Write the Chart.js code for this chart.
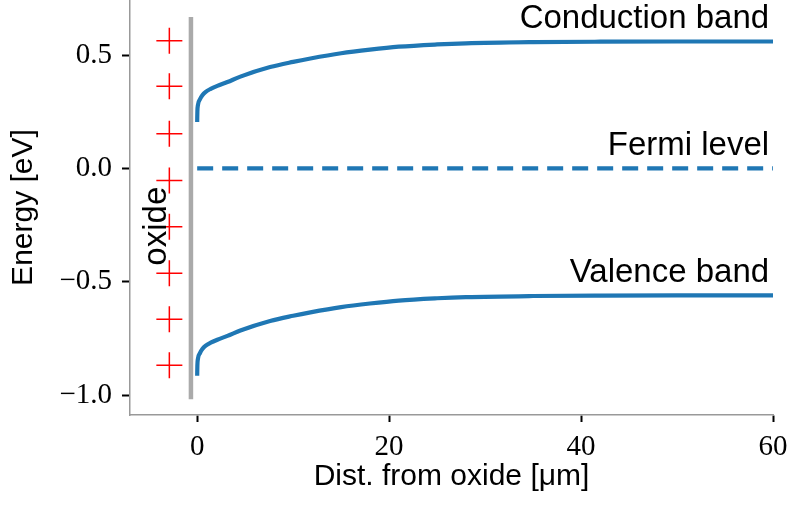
<!DOCTYPE html>
<html>
<head>
<meta charset="utf-8">
<script src="https://cdn.jsdelivr.net/npm/chart.js@4.4.0/dist/chart.umd.min.js"></script>
<style>
  html, body { margin: 0; padding: 0; background: #fff; }
  #wrap { width: 790px; height: 509px; }
</style>
</head>
<body>
<div id="wrap"><canvas id="bands" width="790" height="509"></canvas></div>
<script>
// Distance from the oxide [um]
const distance = [0, 0.02, 0.08, 0.29, 0.54, 0.89, 1.41, 2.1, 3.15, 4.5, 7.6, 10, 11.8, 15, 18, 21, 25, 28, 35, 42, 50, 60];
// Band edges [eV]
const conduction = [0.205, 0.25, 0.28, 0.305, 0.323, 0.338, 0.351, 0.364, 0.381, 0.405, 0.447, 0.47, 0.485, 0.508, 0.524, 0.537, 0.547, 0.552, 0.557, 0.559, 0.56, 0.56];
const valence = [-0.915, -0.87, -0.84, -0.815, -0.797, -0.782, -0.769, -0.756, -0.739, -0.715, -0.673, -0.65, -0.635, -0.612, -0.596, -0.583, -0.573, -0.568, -0.563, -0.561, -0.56, -0.56];
// Fermi level
const fermiX = [0, 60];
const fermiY = [0, 0];
// Oxide wall
const oxideX = [-0.65, -0.65];
const oxideY = [-1.018, 0.668];
// Positive charges in the oxide
const chargeX = -2.9;
const chargeY = [0.563, 0.363, 0.153, -0.053, -0.257, -0.463, -0.665, -0.868];
// Text labels
const bandLabels = ['Conduction band', 'Fermi level', 'Valence band'];
const bandLabelY = [0.618, 0.058, -0.503];
// Ticks
const xTicks = [0, 20, 40, 60];
const yTicks = [-1.0, -0.5, 0.0, 0.5];

const blue = '#1f77b4';

function pts(xs, ys) {
    return xs.map((v, i) => ({ x: v, y: ys[i] }));
}

// Draws the band names and the rotated "oxide" word
const textPlugin = {
    id: 'bandText',
    afterDatasetsDraw(chart) {
	const { ctx, scales: { x, y } } = chart;
	ctx.save();
	ctx.fillStyle = '#000';
	ctx.font = '33px "Liberation Sans"';
	ctx.textAlign = 'right';
	ctx.textBaseline = 'alphabetic';
	bandLabels.forEach((t, i) => {
	    ctx.fillText(t, x.getPixelForValue(59.6), y.getPixelForValue(bandLabelY[i]));
	});
	ctx.translate(x.getPixelForValue(-4.2), y.getPixelForValue(-0.255));
	ctx.rotate(-Math.PI / 2);
	ctx.textAlign = 'center';
	ctx.textBaseline = 'middle';
	ctx.fillText('oxide', 0, 0);
	ctx.restore();
    }
};

const minus = v => (v < 0 ? '\u2212' : '') + Math.abs(v).toFixed(1);

new Chart(document.getElementById('bands'), {
    type: 'scatter',
    plugins: [textPlugin],
    data: {
	datasets: [
	    {
		data: chargeY.map(v => ({ x: chargeX, y: v })),
		showLine: false,
		pointStyle: 'cross',
		pointRadius: 13,
		borderColor: '#ff0000',
		borderWidth: 1.5
	    },
	    {
		data: pts(oxideX, oxideY),
		showLine: true,
		borderColor: '#aaaaaa',
		borderWidth: 4.5,
		pointRadius: 0
	    },
	    {
		data: pts(distance, conduction),
		showLine: true,
		borderColor: blue,
		borderWidth: 4.2,
		cubicInterpolationMode: 'monotone',
		pointRadius: 0
	    },
	    {
		data: pts(fermiX, fermiY),
		showLine: true,
		borderColor: blue,
		borderWidth: 4.2,
		borderDash: [16, 9],
		pointRadius: 0
	    },
	    {
		data: pts(distance, valence),
		showLine: true,
		borderColor: blue,
		borderWidth: 4.2,
		cubicInterpolationMode: 'monotone',
		pointRadius: 0
	    }
	]
    },
    options: {
	responsive: false,
	animation: false,
	events: [],
	layout: { autoPadding: false, padding: { top: 0, right: 17, bottom: 0, left: 0 } },
	plugins: {
	    legend: { display: false },
	    tooltip: { enabled: false }
	},
	scales: {
	    x: {
		type: 'linear',
		min: -7,
		max: 60,
		border: { display: true, color: '#999', width: 1.5 },
		grid: { drawOnChartArea: false, drawTicks: true, tickLength: 7, tickWidth: 2, tickColor: '#000' },
		ticks: { color: '#000', font: { family: 'Liberation Serif', size: 29 }, padding: 8, maxRotation: 0 },
		title: {
		    display: true,
		    text: 'Dist. from oxide [\u03bcm]',
		    color: '#000',
		    font: { family: 'Liberation Sans', size: 30 },
		    padding: { top: 0, bottom: 14 }
		},
		afterBuildTicks: s => { s.ticks = xTicks.map(v => ({ value: v })); },
		afterFit: s => { s.height = 94; s.paddingLeft = 0; s.paddingRight = 0; }
	    },
	    y: {
		type: 'linear',
		min: -1.088,
		max: 0.743,
		border: { display: true, color: '#999', width: 1.5 },
		grid: { drawOnChartArea: false, drawTicks: true, tickLength: 8, tickWidth: 2, tickColor: '#000' },
		ticks: { color: '#000', font: { family: 'Liberation Serif', size: 29 }, padding: 10, callback: minus },
		title: {
		    display: true,
		    text: 'Energy [eV]',
		    color: '#000',
		    font: { family: 'Liberation Sans', size: 30 },
		    padding: { top: 6, bottom: 0 }
		},
		afterBuildTicks: s => { s.ticks = yTicks.map(v => ({ value: v })); },
		afterFit: s => { s.width = 130; s.paddingTop = 0; s.paddingBottom = 0; }
	    }
	}
    }
});
</script>
</body>
</html>
